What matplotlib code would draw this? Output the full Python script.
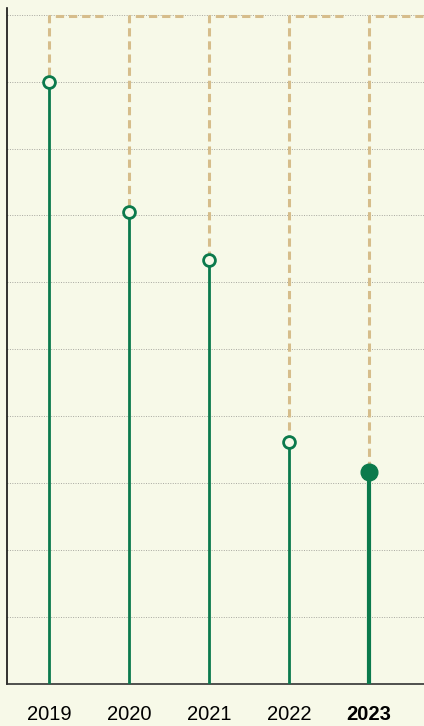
import matplotlib.pyplot as plt

years = ["2019", "2020", "2021", "2022", "2023"]
values = [9.0, 7.05, 6.33, 3.62, 3.17]
top_value = 9.98
cap_width = 0.68

bg = "#f7f9e8"
green = "#0b7a4c"
tan = "#d6bd8b"

plt.rcParams["font.family"] = ["Liberation Sans", "DejaVu Sans"]

fig = plt.figure(figsize=(4.24, 7.26), dpi=100, facecolor=bg)
ax = fig.add_axes([7 / 424, 42 / 726, 417 / 424, 676 / 726])
ax.set_facecolor(bg)

x = list(range(len(years)))

# 参考虚线: 顶部横线 + 竖线到点
for i, v in zip(x, values):
    ax.plot([i + cap_width, i, i], [top_value, top_value, v], color=tan,
            linewidth=2.2, linestyle=(0, (2.7, 1.6)), zorder=2)

# 棒棒糖
for i, v in zip(x, values):
    last = i == len(years) - 1
    ax.plot([i, i], [0, v], color=green, linewidth=3.0 if last else 2.0,
            solid_capstyle="butt", zorder=3)
    if last:
        ax.plot(i, v, "o", markersize=12, color=green, zorder=4)
    else:
        ax.plot(i, v, "o", markersize=8.5, markerfacecolor=bg,
                markeredgecolor=green, markeredgewidth=2.0, zorder=4)

ax.set_xlim(-0.525, 4.69)
ax.set_ylim(0, 10.1)
ax.set_yticks(range(0, 11))
ax.set_yticklabels([])
ax.yaxis.grid(True, color="#a8a8a0", linestyle=(0, (1, 1.5)), linewidth=0.7)
ax.set_axisbelow(True)

ax.set_xticks(x)
ax.set_xticklabels(years, fontsize=14.5)
ax.get_xticklabels()[-1].set_fontweight("bold")
ax.tick_params(axis="both", length=0)
ax.tick_params(axis="x", pad=15)

for s in ["top", "right"]:
    ax.spines[s].set_visible(False)
ax.spines["left"].set_color("#111111")
ax.spines["left"].set_linewidth(1.2)
ax.spines["bottom"].set_color("#333333")
ax.spines["bottom"].set_linewidth(1.2)

fig.savefig("out.png", dpi=100, facecolor=bg)
